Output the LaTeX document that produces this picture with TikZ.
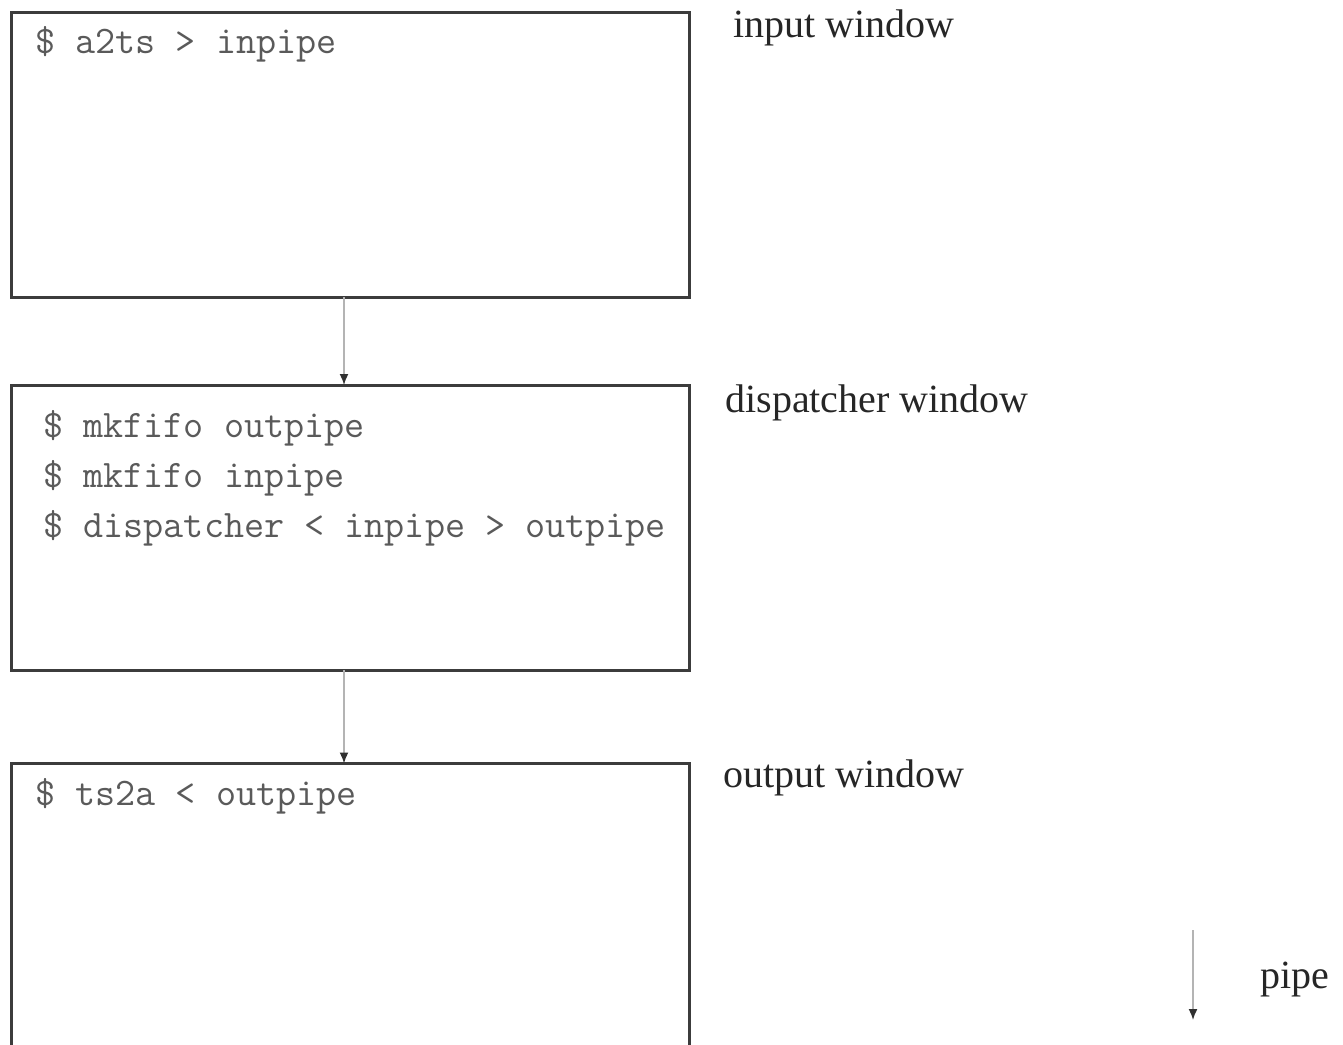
\documentclass[tikz,border=0pt]{standalone}
\usepackage{fontspec}
\setmainfont{Liberation Serif}
\usetikzlibrary{arrows.meta}
\definecolor{boxline}{HTML}{3C3C3C}
\definecolor{pipeline}{HTML}{B4B4B4}
\definecolor{headcol}{HTML}{303030}
\definecolor{cmdcol}{HTML}{5A5A5A}
\tikzset{
  winbox/.style={draw=boxline, line width=1.5pt, minimum width=339pt, minimum height=142.5pt, inner sep=0pt, outer sep=0pt},
  cmd/.style={anchor=base west, inner sep=0pt, text=cmdcol, font=\ttfamily\fontsize{19.5}{19.5}\selectfont},
  lbl/.style={anchor=base west, inner sep=0pt, text=black!85, font=\fontsize{20}{20}\selectfont},
  pipearrow/.style={draw=pipeline, line width=0.8pt, -{Latex[length=5.5pt,width=4.5pt,color=headcol]}}
}
\begin{document}
\begin{tikzpicture}[x=0.5pt,y=-0.5pt]
\useasboundingbox (0,0) rectangle (1343,1044);
\clip (0,0) rectangle (1343,1044);
\node[winbox] (inwin) at (350,154.5) {};
\node[winbox] (dispwin) at (350,527.5) {};
\node[winbox] (outwin) at (350,906) {};
\node[cmd] (c1) at (35,54) {\$ a2ts > inpipe};
\node[cmd] (c2) at (43,437) {\$ mkfifo outpipe};
\node[cmd] (c3) at (43,487) {\$ mkfifo inpipe};
\node[cmd] (c4) at (43,537) {\$ dispatcher < inpipe > outpipe};
\node[cmd] (c5) at (35,805) {\$ ts2a < outpipe};
\node[lbl] (l1) at (733,37) {input window};
\node[lbl] (l2) at (725,412) {dispatcher window};
\node[lbl] (l3) at (723,787) {output window};
\node[lbl] (l4) at (1260,988) {pipe};
\draw[pipearrow] ([xshift=-3pt]inwin.south) -- ([xshift=-3pt]dispwin.north);
\draw[pipearrow] ([xshift=-3pt]dispwin.south) -- ([xshift=-3pt]outwin.north);
\coordinate (ls) at (1193,930);
\coordinate (le) at (1193,1020);
\draw[pipearrow] (ls) -- (le);
\end{tikzpicture}
\end{document}
